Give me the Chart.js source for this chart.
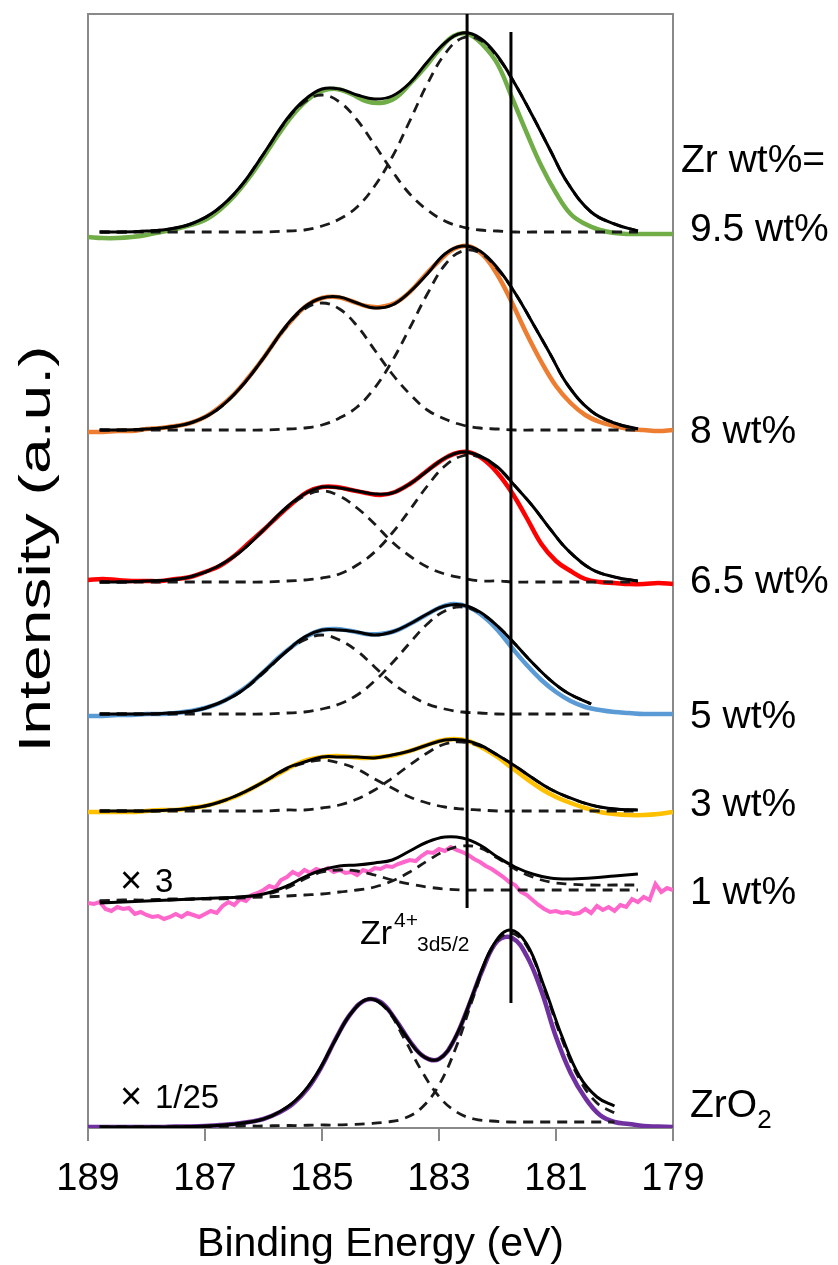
<!DOCTYPE html>
<html><head><meta charset="utf-8">
<script src="https://cdn.jsdelivr.net/npm/chart.js@4.4.1/dist/chart.umd.min.js"></script>
<style>html,body{margin:0;padding:0;background:#fff;}#wrap{width:838px;height:1265px;position:relative;}</style>
</head><body><div id="wrap"><canvas id="c" width="838" height="1265"></canvas></div>
<script>
// x grids (binding energy, eV)
const dataX = [189,188.75,188.5,188.25,188,187.75,187.5,187.25,187,186.75,186.5,186.25,186,185.75,185.5,185.25,185,184.75,184.5,184.25,184,183.75,183.5,183.25,183,182.75,182.5,182.25,182,181.75,181.5,181.25,181,180.75,180.5,180.25,180,179.75,179.5,179.25,179];
const pinkX = [189,188.9,188.8,188.7,188.6,188.5,188.4,188.3,188.2,188.1,188,187.9,187.8,187.7,187.6,187.5,187.4,187.3,187.2,187.1,187,186.9,186.8,186.7,186.6,186.5,186.4,186.3,186.2,186.1,186,185.9,185.8,185.7,185.6,185.5,185.4,185.3,185.2,185.1,185,184.9,184.8,184.7,184.6,184.5,184.4,184.3,184.2,184.1,184,183.9,183.8,183.7,183.6,183.5,183.4,183.3,183.2,183.1,183,182.9,182.8,182.7,182.6,182.5,182.4,182.3,182.2,182.1,182,181.9,181.8,181.7,181.6,181.5,181.4,181.3,181.2,181.1,181,180.9,180.8,180.7,180.6,180.5,180.4,180.3,180.2,180.1,180,179.9,179.8,179.7,179.6,179.5,179.4,179.3,179.2,179.1,179];
const fitX = [188.8,188.4,188.0,187.6,187.2,186.8,186.4,186.0,185.6,185.3,185.0,184.7,184.4,184.1,183.8,183.5,183.2,182.9,182.6,182.3,182.0,181.7,181.4,181.1,180.8,180.4,180.0,179.6];
const blueFitX = [188.8,188.4,188.0,187.6,187.2,186.8,186.4,186.0,185.6,185.3,185.0,184.7,184.4,184.1,183.8,183.5,183.2,182.9,182.6,182.3,182.0,181.7,181.4,181.1,180.8,180.4];
const zrO2FitX = [188.8,188.4,188.0,187.6,187.2,186.8,186.4,186.0,185.7,185.4,185.1,184.8,184.5,184.2,183.9,183.6,183.3,183.0,182.7,182.4,182.1,181.8,181.5,181.2,180.9,180.6,180.3,180.0];

// measured spectra (offset intensity, a.u.)
const data95 = [891,890,890,891,893,896,899,903,908,918,932,950,971,993,1013,1028,1037,1039,1034,1027,1025,1030,1044,1060,1078,1092,1094,1083,1064,1030,995,962,935,914,904,898,895,894,894,894,894];
const data8 = [696,696,697,697,699,700,702,705,711,721,734,751,770,791,809,823,830,831,827,822,821,825,836,852,867,879,882,873,853,825,794,766,742,725,713,706,702,699,698,697,698];
const data65 = [548,549,548,547,547,547,549,551,556,562,572,585,598,612,625,636,641,641,638,635,633,636,644,655,666,674,676,669,655,635,610,584,567,557,549,546,545,544,544,545,544];
const data5 = [412,412,413,413,414,414,415,417,420,425,433,443,456,470,482,492,498,499,497,494,494,497,504,512,520,524,521,512,498,480,463,448,436,427,421,418,416,415,414,414,414];
const data3 = [316,316,316,316,317,318,318,320,322,326,331,338,346,354,362,368,371,372,371,370,371,373,377,382,387,389,387,380,371,360,349,339,331,325,320,316,314,313,313,314,316];
const data1 = [225,224,226,219,217,221,219,220,214,216,213,211,212,209,211,214,211,215,213,211,214,217,215,222,226,223,229,227,233,235,238,242,240,248,251,256,253,258,255,259,257,260,256,258,255,256,253,258,256,260,259,262,261,264,266,268,267,272,276,275,279,277,281,278,276,273,269,266,262,259,255,251,246,243,236,233,228,223,219,216,217,215,216,214,215,219,215,222,218,221,217,223,221,229,226,231,228,244,236,240,238];
const dataZrO2 = [1,1,1,1,1,1,1.5,1.5,2,3,4,6,9,15,24,39,62,91,115,128,126,109,87,71,69,87,121,159,187,190,172,137,91,55,30,13,6,4,2,1.5,1];

// fitted envelopes and components
const fit95 = [896,896,897,899,905,918,941,974,1009,1028,1039,1039,1033,1029,1032,1045,1066,1085,1095,1090,1072,1044,1012,978,945,916,904,897];
const peakA95 = [896,896,897,899,905,918,941,974,1008,1026,1033,1026,1008,983,957,934,918,907,901,898,897,896,896,896,896,896,896,896];
const peakB95 = [896,896,896,896,896,896,896,896,897,898,902,909,921,942,971,1007,1044,1074,1090,1088,1071,1044,1012,978,945,916,904,897];
const fit8 = [698,698,699,701,706,718,740,770,803,821,830,831,825,820,823,836,854,874,882,877,860,835,805,774,743,717,705,699];
const peakA8 = [698,698,699,701,706,718,740,770,802,819,825,819,802,778,754,734,718,709,703,700,699,698,698,698,698,698,698,698];
const peakB8 = [698,698,698,698,698,698,698,698,699,700,703,710,721,740,767,800,834,863,877,875,859,835,805,774,743,717,705,699];
const fit65 = [546,546,547,548,552,561,576,598,621,634,641,640,637,634,635,644,657,670,676,672,661,642,622,599,578,559,551,547];
const peakA65 = [546,546,547,548,552,561,576,598,620,632,637,632,620,604,586,572,561,554,550,547,547,546,546,546,546,546,546,546];
const peakB65 = [546,546,546,546,546,546,546,546,547,548,550,554,563,576,595,618,642,662,672,671,660,642,622,599,578,559,551,547];
const fit5 = [414,414,414,415,417,424,436,456,477,491,498,498,496,493,496,504,514,522,523,516,502,484,465,448,435,424];
const peakA5 = [414,414,414,415,417,424,436,455,477,488,493,488,477,461,445,433,424,419,416,415,414,414,414,414,414,414];
const peakB5 = [414,414,414,414,414,414,414,414,415,416,419,424,433,447,465,485,504,517,521,515,502,484,465,448,435,424];
const fit3 = [317,317,317,318,320,325,334,346,360,366,371,371,371,370,373,377,383,388,388,383,373,362,350,339,331,323,319,318];
const peakA3 = [317,317,317,318,320,325,334,346,359,365,368,365,359,349,340,331,325,321,319,318,317,317,317,317,317,317,317,317];
const peakB3 = [317,317,317,317,317,317,317,317,318,318,320,323,329,338,350,363,375,384,386,382,373,362,350,339,331,323,319,318];
const fit1 = [225,226,227,228,229,230,231,234,242,251,258,262,263,265,268,277,286,291,290,283,271,261,254,250,249,250,252,254];
const peakA1 = [227,228,228,229,229,230,231,233,240,249,256,258,257,253,248,244,241,239,238,238,238,238,238,238,238,238,238,238];
const peakB1 = [227,227,228,228,229,229,230,231,232,233,234,236,238,241,247,256,267,277,282,280,270,259,251,246,244,243,243,243];
const fitZrO2 = [1,1,1,1,1.5,2.5,4.5,9,17,30.5,53,85,115,129,120,95,73,69,93,137,180,198,184,141,92,52,31,22];
const peakAZrO2 = [1,1,1,1,1.5,2.5,4.5,9,17,30.5,53,85,115,129,119,90,57.5,31.5,16,9,7,6,6,6,6,6,6,6];
const peakBZrO2 = [1,1,1,1,1.5,1.5,2,2,2.5,2.5,3,3,3.5,4.3,5.9,9.5,20,43,82,133,179,195,182,139,89,49,25,15];

// reference lines (Zr4+ 3d5/2 positions)
const refLineX = [182.52, 181.77];
const refLineLow = [220, 125];
const refLineHigh = [1114, 1096];

// axis
const tickValues = [189,187,185,183,181,179];
const tickLabels = ['189','187','185','183','181','179'];
const sampleLabels = ['9.5 wt%','8 wt%','6.5 wt%','5 wt%','3 wt%','1 wt%'];

const FONT = '"Liberation Sans", Arial, Helvetica, sans-serif';
const pts = (xs, ys) => ys.map((y, i) => ({x: xs[i], y}));
const ds = [];
function add(xs, ys, color, width, dash, order, tension) {
  ds.push({data: pts(xs, ys), borderColor: color, borderWidth: width, borderDash: dash || [],
    pointRadius: 0, fill: false, order: order, tension: tension, borderCapStyle: 'butt'});
}
// vertical reference lines
for (let i = 0; i < refLineX.length; i++) {
  add([refLineX[i], refLineX[i]], [refLineLow[i], refLineHigh[i]], '#000', 3, null, 0, 0);
}
const D = [10, 7];
const fits = [
  [fitX, fit95, peakA95, peakB95], [fitX, fit8, peakA8, peakB8], [fitX, fit65, peakA65, peakB65],
  [blueFitX, fit5, peakA5, peakB5], [fitX, fit3, peakA3, peakB3], [fitX, fit1, peakA1, peakB1],
  [zrO2FitX, fitZrO2, peakAZrO2, peakBZrO2]
];
fits.forEach(f => {
  add(f[0], f[1], '#000', 3, null, 1, 0.4);
  add(f[0], f[2], '#1a1a1a', 2.8, D, 1, 0.4);
  add(f[0], f[3], '#1a1a1a', 2.8, D, 1, 0.4);
});
add(dataX, data95, '#70AD47', 4.5, null, 2, 0.4);
add(dataX, data8, '#ED7D31', 4.5, null, 2, 0.4);
add(dataX, data65, '#FF0000', 4.5, null, 2, 0.4);
add(dataX, data5, '#5B9BD5', 4.5, null, 2, 0.4);
add(dataX, data3, '#FFC000', 4.5, null, 2, 0.4);
add(pinkX, data1, '#FF66CC', 4, null, 2, 0);
add(dataX, dataZrO2, '#7030A0', 4.5, null, 2, 0.4);

const textPlugin = {
  id: 'texts',
  beforeDatasetsDraw(chart) {
    const {ctx, chartArea: a} = chart;
    ctx.save();
    ctx.strokeStyle = '#898989';
    ctx.lineWidth = 2;
    ctx.strokeRect(a.left, a.top, a.right - a.left, a.bottom - a.top);
    ctx.restore();
  },
  afterDraw(chart) {
    const {ctx} = chart;
    ctx.save();
    ctx.fillStyle = '#000';
    ctx.textBaseline = 'alphabetic';
    ctx.textAlign = 'left';
    // y axis title
    ctx.save();
    ctx.translate(50, 549);
    ctx.rotate(-Math.PI / 2);
    ctx.scale(1.46, 1);
    ctx.textAlign = 'center';
    ctx.font = '44px ' + FONT;
    ctx.fillText('Intensity (a.u.)', 0, 0);
    ctx.restore();
    // right-hand sample labels
    ctx.font = '39px ' + FONT;
    ctx.fillText('Zr wt%=', 681, 172);
    const ys = [241, 443, 593, 728, 816, 904];
    sampleLabels.forEach((t, i) => ctx.fillText(t, 690, ys[i]));
    ctx.fillText('ZrO', 690, 1117);
    const w = ctx.measureText('ZrO').width;
    ctx.font = '26px ' + FONT;
    ctx.fillText('2', 690 + w, 1128);
    // scale factors
    ctx.font = '38px ' + FONT;
    ctx.fillText('\u00D7', 120, 893);
    ctx.fillText('\u00D7', 120, 1109);
    ctx.font = '33px ' + FONT;
    ctx.fillText('3', 155, 892);
    ctx.fillText('1/25', 155, 1108);
    // peak label
    ctx.font = '34px ' + FONT;
    ctx.fillText('Zr', 360, 944);
    ctx.font = '21px ' + FONT;
    ctx.fillText('4+', 394, 927);
    ctx.fillText('3d5/2', 417, 951);
    ctx.restore();
  }
};

new Chart(document.getElementById('c').getContext('2d'), {
  type: 'line',
  data: {datasets: ds},
  options: {
    responsive: false, animation: false, devicePixelRatio: 1,
    layout: {padding: {left: 88, top: 14, right: 165, bottom: 0}},
    plugins: {legend: {display: false}, tooltip: {enabled: false}},
    scales: {
      x: {
        type: 'linear', reverse: true, min: 179, max: 189,
        afterBuildTicks: s => { s.ticks = tickValues.map(v => ({value: v})); },
        afterFit: s => { s.height = 137; },
        ticks: {font: {family: FONT, size: 38}, color: '#000', padding: 16,
          callback: v => tickLabels[tickValues.indexOf(v)]},
        grid: {drawOnChartArea: false, drawTicks: true, tickLength: 13, color: '#898989', lineWidth: 2},
        border: {display: true, color: '#898989', width: 2},
        title: {display: true, text: 'Binding Energy (eV)', color: '#000',
          font: {family: FONT, size: 41}, padding: {top: 0, bottom: -4}}
      },
      y: {display: false, min: 0, max: 1114}
    }
  },
  plugins: [textPlugin]
});
</script></body></html>
